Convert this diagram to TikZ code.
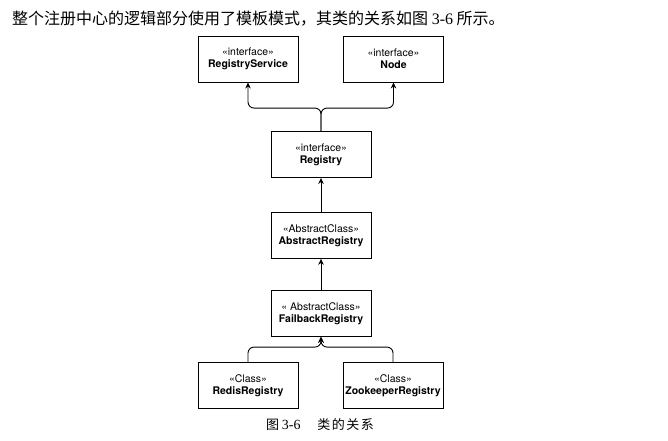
\documentclass[tikz,border=0pt]{standalone}
\usepackage{fontspec}
\setmainfont{Liberation Serif}
\setsansfont{TeX Gyre Heros}
\newfontfamily\cjk{Noto Sans CJK SC}
\usetikzlibrary{arrows.meta,positioning}

\begin{document}
\begin{tikzpicture}[x=1pt,y=-1pt,font=\sffamily\fontsize{10.5}{12}\selectfont, >={Stealth[length=6pt,width=5.5pt]}]
      \tikzstyle{class box}=[draw,line width=0.9pt,minimum width=100pt,minimum height=46pt,inner sep=0pt,align=center]
      \tikzstyle{inherit}=[->,line width=0.9pt,rounded corners=6pt]

      \useasboundingbox (0,0) rectangle (668,440);

      \node(head)[anchor=west,inner sep=0pt,font=\cjk\fontsize{16}{16}\selectfont] at (12,19)
          {整个注册中心的逻辑部分使用了模板模式，其类的关系如图 {\rmfamily 3-6} 所示。};

      \node(rs)[class box] at (248,59) {«interface»\\\textbf{RegistryService}};
      \node(nd)[class box] at (393.5,59) {«interface»\\\textbf{Node}};
      \node(reg)[class box] at (321,154.5) {«interface»\\\textbf{Registry}};
      \node(abs)[class box,below=34pt of reg] {«AbstractClass»\\\textbf{AbstractRegistry}};
      \node(fb)[class box,below=31pt of abs] {« AbstractClass»\\\textbf{FailbackRegistry}};
      \node(redis)[class box] at (248,385.5) {«Class»\\\textbf{RedisRegistry}};
      \node(zk)[class box] at (393,385.5) {«Class»\\\textbf{ZookeeperRegistry}};

      \node(cap)[font=\cjk\fontsize{13}{13}\selectfont] at (320,425)
          {图 {\rmfamily\fontsize{14}{14}\selectfont 3-6}\hspace{1.3em}类\kern1.5pt 的\kern1.5pt 关\kern1.5pt 系};

      % interfaces
      \draw[inherit] (reg.north) -- ++(0,-23) -| (rs.south);
      \draw[inherit] (reg.north) -- ++(0,-23) -| (nd.south);
      % chain
      \draw[inherit] (abs) -- (reg);
      \draw[inherit] (fb) -- (abs);
      % subclasses
      \draw[inherit] (redis.north) -- ++(0,-15) -| (fb.south);
      \draw[inherit] (zk.north) -- ++(0,-15) -| (fb.south);
\end{tikzpicture}
\end{document}
